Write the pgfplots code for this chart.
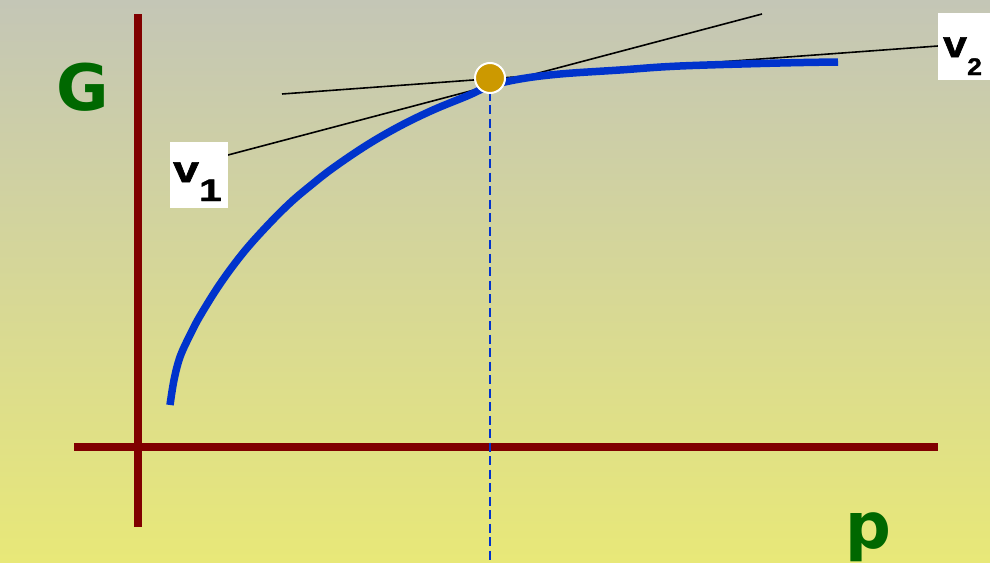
\documentclass[border=0pt]{standalone}
\usepackage{pgfplots}
\pgfplotsset{compat=1.18}
\usepackage{fontspec}
\setmainfont{Liberation Sans}
\newfontfamily\dejavu{DejaVu Sans}
\newfontfamily\vfont{Liberation Sans}[BoldFeatures={FakeBold=1.5}]
\definecolor{bgtop}{RGB}{196,198,182}
\definecolor{bgbot}{RGB}{232,232,120}
\definecolor{axred}{RGB}{128,0,0}
\definecolor{cblue}{RGB}{0,51,204}
\definecolor{cgold}{RGB}{204,153,0}
\definecolor{cgreen}{RGB}{0,104,0}
\begin{document}
\begin{tikzpicture}
\begin{axis}[
  scale only axis, width=990pt, height=562pt,
  xmin=0, xmax=990, ymin=0, ymax=562, y dir=reverse,
  hide axis, clip=false,
]
% background
\fill[top color=bgtop, bottom color=bgbot] (axis cs:0,0) rectangle (axis cs:990,562);
% axes lines
\addplot[axred, line width=8pt, line cap=butt] coordinates {(138,14) (138,527)};
\addplot[axred, line width=8pt, line cap=butt] coordinates {(74,446.5) (938,446.5)};
% tangent lines
\addplot[black, line width=1.6pt] coordinates {(228,155) (762,14)};
\addplot[black, line width=1.6pt] coordinates {(282,94) (938,46)};
% curve
\addplot[cblue, line width=7.5pt, line cap=butt, smooth, tension=0.6] coordinates {
 (170,405) (174,380) (180,357) (190,335) (200,316) (220,284) (243,253) (267,226)
 (290,203) (310,186) (333,168) (367,145) (400,126) (433,110) (467,96) (490,86)
 (520,79) (560,74) (620,70) (680,66) (780,63) (838,62)};
% point
\addplot[only marks, mark=*, mark size=15pt, mark options={fill=cgold, draw=white, line width=2pt}] coordinates {(490,78)};
% dashed vertical
\addplot[cblue, line width=2.2pt, dash pattern=on 9pt off 4.5pt] coordinates {(490,78) (490,562)};
% label boxes
\fill[white] (axis cs:170,142) rectangle (axis cs:228,208);
\fill[white] (axis cs:938,13) rectangle (axis cs:990,80);
\node[anchor=base west, inner sep=0pt] at (axis cs:173,182) {\scalebox{1.25}[1]{\vfont\fontsize{37}{40}\selectfont\bfseries v}};
\node[anchor=base west, inner sep=0pt] at (axis cs:199,201) {\scalebox{1.3}[1]{\vfont\fontsize{31}{34}\selectfont\bfseries 1}};
\node[anchor=base west, inner sep=0pt] at (axis cs:943,57) {\scalebox{1.15}[1]{\vfont\fontsize{37}{40}\selectfont\bfseries v}};
\node[anchor=base west, inner sep=0pt] at (axis cs:967,75) {\scalebox{1.1}[1]{\vfont\fontsize{24}{26}\selectfont\bfseries 2}};
% G and p
\node[anchor=base west, inner sep=0pt, text=cgreen] at (axis cs:56,110) {\dejavu\fontsize{64}{66}\selectfont\bfseries G};
\node[anchor=base west, inner sep=0pt, text=cgreen] at (axis cs:845,548) {\dejavu\fontsize{64}{66}\selectfont\bfseries p};
\end{axis}
\pgfresetboundingbox
\path[use as bounding box] (0,0) rectangle (990pt,562pt);
\end{tikzpicture}
\end{document}
